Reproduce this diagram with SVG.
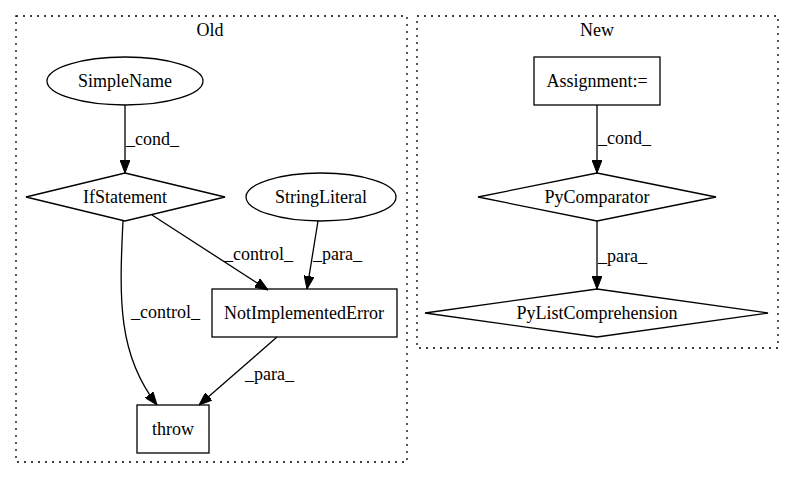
<svg xmlns="http://www.w3.org/2000/svg" width="793" height="480" viewBox="0 0 793 480">
<style>
text{font-family:"Liberation Serif","Times New Roman",serif;font-size:18px;fill:#000}
.c{text-anchor:middle}
.cl{fill:none;stroke:#000;stroke-width:1.3;stroke-dasharray:2,5}
.n{fill:none;stroke:#000;stroke-width:1.3}
.e{fill:none;stroke:#000;stroke-width:1.3;marker-end:url(#ah)}
</style>
<defs>
<marker id="ah" markerUnits="userSpaceOnUse" markerWidth="13" markerHeight="10" viewBox="0 0 13 10" refX="13" refY="5" orient="auto">
<path d="M0,0 L13,5 L0,10 z" fill="#000" stroke="#000"/>
</marker>
</defs>
<rect x="0" y="0" width="793" height="480" fill="#fff"/>
<g id="cluster_old">
<rect class="cl" x="16" y="16" width="391" height="446"/>
<text class="c" x="210" y="36">Old</text>
</g>
<g id="cluster_new">
<rect class="cl" x="417" y="16" width="361" height="332"/>
<text class="c" x="597" y="36">New</text>
</g>
<g id="connectors">
<path class="e" d="M125,105 L125,173"/>
<text x="126" y="145">_cond_</text>
<path class="e" d="M152,215 L268,290"/>
<text x="224" y="260">_control_</text>
<path class="e" d="M318,221 L307,289"/>
<text x="313" y="260">_para_</text>
<path class="e" d="M123,221 C119,300 118,355 157,405"/>
<text x="131" y="318">_control_</text>
<path class="e" d="M277,337 L199,405"/>
<text x="245" y="380">_para_</text>
<path class="e" d="M597,105 L597,173"/>
<text x="598" y="144">_cond_</text>
<path class="e" d="M597,221 L597,289"/>
<text x="598" y="262">_para_</text>
</g>
<g id="SimpleName">
<ellipse class="n" cx="125" cy="81" rx="78" ry="24"/>
<text class="c" x="125" y="87">SimpleName</text>
</g>
<g id="IfStatement">
<polygon class="n" points="125,173 225,197 125,221 26,197"/>
<text class="c" x="125" y="203">IfStatement</text>
</g>
<g id="StringLiteral">
<ellipse class="n" cx="321" cy="197" rx="75" ry="24"/>
<text class="c" x="321" y="203">StringLiteral</text>
</g>
<g id="NotImplementedError">
<rect class="n" x="212" y="289" width="185" height="48"/>
<text class="c" x="304" y="319">NotImplementedError</text>
</g>
<g id="throw">
<rect class="n" x="137" y="405" width="72" height="48"/>
<text class="c" x="173" y="435">throw</text>
</g>
<g id="Assignment">
<rect class="n" x="534" y="57" width="126" height="48"/>
<text class="c" x="597" y="87">Assignment:=</text>
</g>
<g id="PyComparator">
<polygon class="n" points="597,173 716,197 597,221 478,197"/>
<text class="c" x="597" y="203">PyComparator</text>
</g>
<g id="PyListComprehension">
<polygon class="n" points="597,289 768,313 597,337 425,313"/>
<text class="c" x="597" y="319">PyListComprehension</text>
</g>
</svg>
